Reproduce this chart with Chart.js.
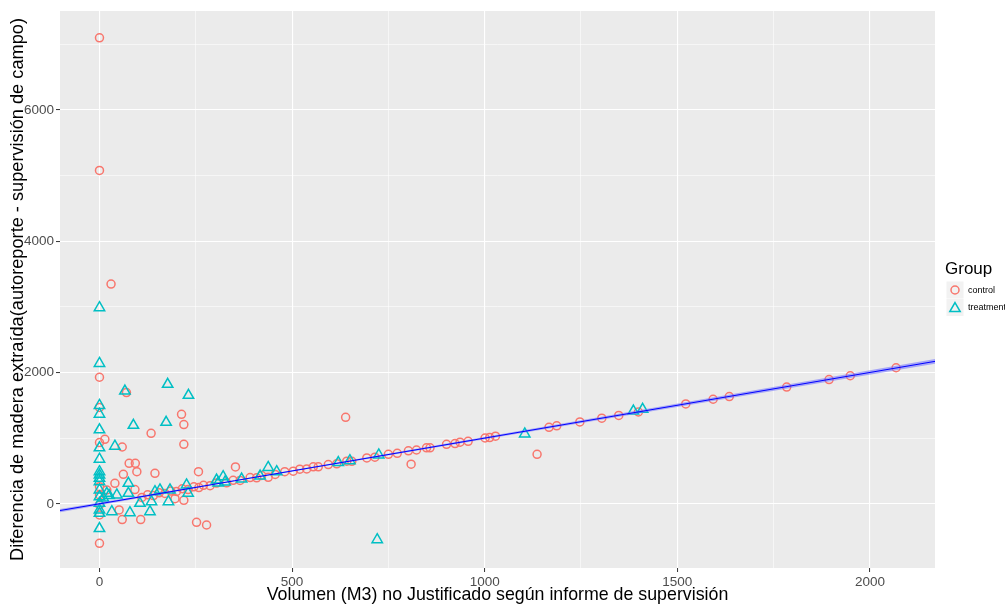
<!DOCTYPE html>
<html>
<head>
<meta charset="utf-8">
<title>Volumen no justificado vs diferencia de madera</title>
<script src="https://cdn.jsdelivr.net/npm/chart.js@4"></script>
<style>
  html, body { margin: 0; padding: 0; background: #ffffff; }
  #chart { display: block; }
</style>
</head>
<body>
<canvas id="chart" width="1005" height="606"></canvas>
<script>
// control group (red circles)
const controlX = [0, 0, 30, 0, 0, 70, 213, 219, 134, 14, 0, 219, 59, 77, 93, 62, 97, 144, 257, 353,
  639, 809, 1136, 40, 19, 92, 51, 59, 107, 0, 252, 278, 196, 219, 0, 0, 0, 0, 438,
  110, 125, 140, 155, 170, 185, 200, 215, 230, 245, 258, 270, 287, 304, 330, 347, 365, 391, 408, 421,
  456, 481, 503, 520, 538, 555, 568, 594, 616, 642, 655, 694, 715, 750, 773, 802, 823, 849, 858, 901,
  923, 936, 957, 1001, 1013, 1028, 1167, 1187, 1247, 1304, 1348, 1399, 1522, 1593, 1635, 1784, 1894, 1949, 2068];
const controlY = [7100, 5080, 3350, 1930, 1470, 1696, 1366, 1210, 1076, 985, 935, 909, 868, 620, 620, 452, 492, 467, 492, 565,
  1320, 606, 757, 315, 213, 220, -91, -238, -238, -599, -279, -320, 80, 55, 264, 137, -15, -167, 406,
  100, 140, 128, 170, 160, 196, 190, 232, 220, 262, 250, 285, 278, 318, 322, 360, 358, 402, 398, 435,
  450, 492, 500, 530, 534, 566, 566, 600, 612, 652, 650, 702, 712, 756, 772, 810, 822, 856, 855, 908,
  920, 942, 955, 1005, 1012, 1032, 1168, 1190, 1250, 1306, 1348, 1401, 1524, 1595, 1636, 1780, 1895, 1953, 2075];

// treatment group (cyan triangles)
const treatX = [0, 0, 177, 66, 231, 0, 0, 88, 173, 0, 0, 40, 0, 0, 0, 0, 0, 0, 0, 0, 0, 0, 0,
  32, 79, 131, 19, 45, 75, 75, 105, 135, 144, 157, 179, 183, 230, 226, 304, 321, 438, 460,
  1104, 1386, 1410, 725, 721, 308, 326, 369, 417, 620, 650, 10, 25];
const treatY = [2990, 2140, 1823, 1720, 1655, 1500, 1368, 1198, 1244, 1130, 855, 880, 683, 492, 441, 391, 340, 213, 112, 10, -91, -142, -375,
  -117, -132, -117, 163, 137, 315, 163, 10, 35, 188, 213, 35, 213, 165, 290, 365, 416, 556, 492,
  1066, 1416, 1442, 746, -543, 320, 335, 380, 425, 630, 660, 90, 130];

// linear fit with its confidence band
const fitX = [-102.5, 350, 2169];
const fitY = [-100, 353, 2172];
const bandLow = [-125, 345, 2137];
const bandHigh = [-75, 361, 2207];

// axis ranges, gridline positions and labelled ticks
const xRange = [-102.5, 2169];
const yRange = [-975, 7508];
const xGrid = [0, 250, 500, 750, 1000, 1250, 1500, 1750, 2000];
const yGrid = [0, 1000, 2000, 3000, 4000, 5000, 6000, 7000];
const xMajor = [0, 500, 1000, 1500, 2000];
const yMajor = [0, 2000, 4000, 6000];

const legendLabels = ['control', 'treatment'];

const RED = '#F8766D';
const CYAN = '#00BFC4';
const FONT = "'Liberation Sans', Arial, sans-serif";

const pts = (xs, ys) => xs.map((x, i) => ({ x: x, y: ys[i] }));

const panelBg = {
  id: 'panelBg',
  beforeDraw(chart) {
    const { ctx, chartArea: a } = chart;
    ctx.save();
    ctx.fillStyle = '#EBEBEB';
    ctx.fillRect(a.left, a.top, a.right - a.left, a.bottom - a.top);
    ctx.restore();
  }
};

// ggplot-style legend on the right
const groupLegend = {
  id: 'groupLegend',
  afterDraw(chart) {
    const ctx = chart.ctx;
    ctx.save();
    ctx.fillStyle = '#000000';
    ctx.font = '17px ' + FONT;
    ctx.textBaseline = 'alphabetic';
    ctx.textAlign = 'left';
    ctx.fillText('Group', 945, 274);

    const kx = 946.5, ky = [281.5, 299];
    ky.forEach((y, i) => {
      ctx.fillStyle = '#F2F2F2';
      ctx.fillRect(kx, y, 17, 17);
      const cx = kx + 8.5, cy = y + 8.5;
      ctx.lineWidth = 1.5;
      ctx.beginPath();
      if (i === 0) {
        ctx.strokeStyle = RED;
        ctx.arc(cx, cy, 4, 0, Math.PI * 2);
      } else {
        ctx.strokeStyle = CYAN;
        const r = 6;
        for (let k = 0; k < 3; k++) {
          const ang = k * 2 * Math.PI / 3;
          const px = cx + Math.sin(ang) * r, py = cy + 1 - Math.cos(ang) * r;
          if (k === 0) ctx.moveTo(px, py); else ctx.lineTo(px, py);
        }
        ctx.closePath();
      }
      ctx.stroke();
      ctx.fillStyle = '#000000';
      ctx.font = '9px ' + FONT;
      ctx.textBaseline = 'middle';
      ctx.fillText(legendLabels[i], 968, cy + 0.5);
    });
    ctx.restore();
  }
};

const gridOpts = (majors) => ({
  color: '#FFFFFF',
  lineWidth: c => majors.includes(c.tick.value) ? 1.1 : 0.55,
  drawTicks: true,
  tickLength: 4,
  tickWidth: 1,
  tickColor: c => majors.includes(c.tick.value) ? '#333333' : 'rgba(0,0,0,0)'
});

new Chart(document.getElementById('chart'), {
  type: 'scatter',
  data: {
    datasets: [
      {
        type: 'line', label: 'fit', data: pts(fitX, fitY),
        borderColor: '#0000FF', borderWidth: 1, pointRadius: 0, fill: false, tension: 0
      },
      {
        type: 'line', label: 'lo', data: pts(fitX, bandLow),
        borderColor: 'rgba(0,0,0,0)', borderWidth: 0, pointRadius: 0, fill: false
      },
      {
        type: 'line', label: 'hi', data: pts(fitX, bandHigh),
        borderColor: 'rgba(0,0,0,0)', borderWidth: 0, pointRadius: 0,
        fill: 1, backgroundColor: 'rgba(110,110,255,0.55)'
      },
      {
        label: 'treatment', data: pts(treatX, treatY),
        pointStyle: 'triangle', pointRadius: 6, borderWidth: 1.5,
        borderColor: CYAN, backgroundColor: 'rgba(0,0,0,0)'
      },
      {
        label: 'control', data: pts(controlX, controlY),
        pointStyle: 'circle', pointRadius: 4, borderWidth: 1.5,
        borderColor: RED, backgroundColor: 'rgba(0,0,0,0)'
      }
    ]
  },
  options: {
    responsive: false,
    animation: false,
    layout: { padding: { top: 11, right: 70, left: 0, bottom: 0 } },
    plugins: { legend: { display: false }, tooltip: { enabled: false } },
    scales: {
      x: {
        type: 'linear',
        min: xRange[0], max: xRange[1],
        border: { display: false },
        grid: gridOpts(xMajor),
        afterBuildTicks: s => { s.ticks = xGrid.map(v => ({ value: v })); },
        ticks: {
          autoSkip: false, maxRotation: 0,
          padding: 2, color: '#4D4D4D', font: { family: FONT, size: 13.5 },
          callback: v => xMajor.includes(v) ? String(v) : ''
        },
        title: {
          display: true,
          text: 'Volumen (M3) no Justificado según informe de supervisión',
          color: '#000000', font: { family: FONT, size: 17.8 },
          padding: { top: 0, bottom: 0 }
        },
        afterFit: s => { s.height = 38; }
      },
      y: {
        type: 'linear',
        min: yRange[0], max: yRange[1],
        border: { display: false },
        grid: gridOpts(yMajor),
        afterBuildTicks: s => { s.ticks = yGrid.map(v => ({ value: v })); },
        ticks: {
          autoSkip: false,
          padding: 2, color: '#4D4D4D', font: { family: FONT, size: 13.5 },
          callback: v => yMajor.includes(v) ? String(v) : ''
        },
        title: {
          display: true,
          text: 'Diferencia de madera extraída(autoreporte - supervisión de campo)',
          color: '#000000', font: { family: FONT, size: 18.2 },
          padding: { top: 7, bottom: 0 }
        },
        afterFit: s => { s.width = 60; }
      }
    }
  },
  plugins: [panelBg, groupLegend]
});
</script>
</body>
</html>
